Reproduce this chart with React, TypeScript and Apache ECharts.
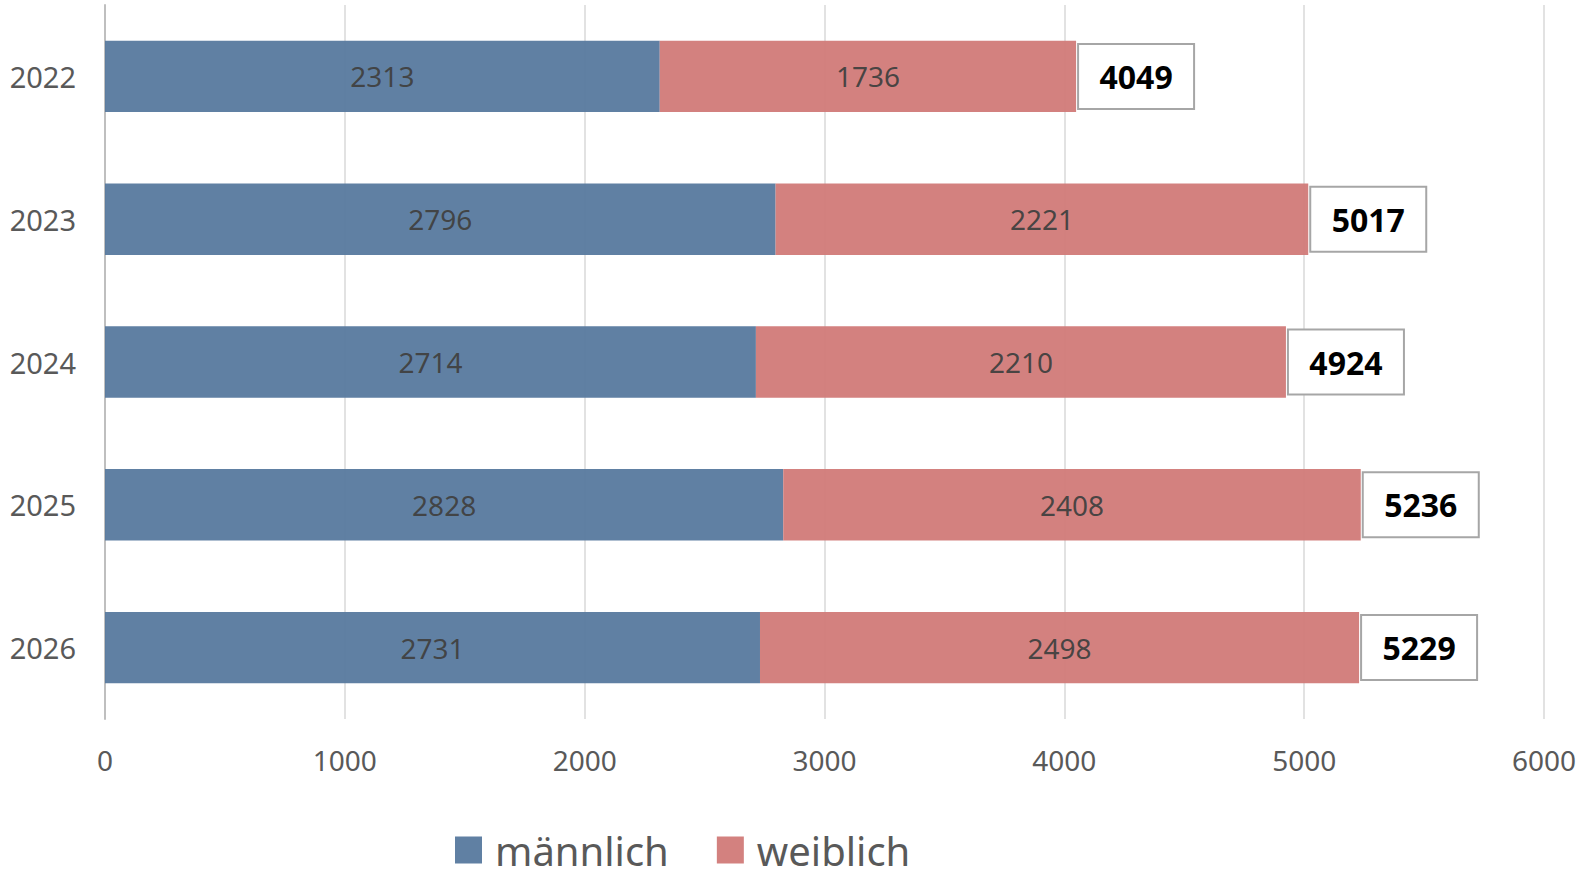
import React, { useEffect, useRef } from "react";
import * as echarts from "echarts";

const years = ["2022", "2023", "2024", "2025", "2026"];
const maennlich = [2313, 2796, 2714, 2828, 2731];
const weiblich = [1736, 2221, 2210, 2408, 2498];
const gesamt = [4049, 5017, 4924, 5236, 5229];
const xTicks = { min: 0, max: 6000, interval: 1000 };

const FONT = "'Noto Sans', sans-serif";

export default function App() {
  const ref = useRef<HTMLDivElement>(null);
  useEffect(() => {
    if (!ref.current) return;
    const chart = echarts.init(ref.current, undefined, { renderer: "svg" });
    chart.setOption({
      animation: false,
      textStyle: { fontFamily: FONT },
      grid: { left: 105, right: 40, top: 5, bottom: 158, containLabel: false },
      legend: {
        data: ["männlich", "weiblich"],
        left: 455,
        top: 830,
        padding: 0,
        icon: "rect",
        itemWidth: 27,
        itemHeight: 27,
        itemGap: 48,
        textStyle: {
          fontSize: 40,
          lineHeight: 38,
          color: "#595959",
          fontFamily: FONT,
          padding: [0, 0, 0, 8],
        },
      },
      xAxis: {
        type: "value",
        min: xTicks.min,
        max: xTicks.max,
        interval: xTicks.interval,
        axisLine: { show: false },
        axisTick: { show: false },
        axisLabel: {
          fontSize: 28,
          color: "#595959",
          margin: 27,
          fontFamily: FONT,
          formatter: (v: number) => String(v),
        },
        splitLine: { show: true, lineStyle: { color: "#d9d9d9", width: 1.5 } },
      },
      yAxis: {
        type: "category",
        data: years,
        inverse: true,
        axisLine: { show: true, lineStyle: { color: "#bfbfbf", width: 2 } },
        axisTick: { show: false },
        axisLabel: { fontSize: 29, color: "#595959", margin: 29, fontFamily: FONT },
      },
      series: [
        {
          name: "männlich",
          type: "bar",
          stack: "total",
          barWidth: "50%",
          data: maennlich,
          itemStyle: { color: "#56789d", opacity: 0.94 },
          label: { show: true, position: "inside", fontSize: 28, color: "#404040", fontFamily: FONT },
        },
        {
          name: "weiblich",
          type: "bar",
          stack: "total",
          barWidth: "50%",
          data: weiblich,
          itemStyle: { color: "#d07977", opacity: 0.94 },
          label: { show: true, position: "inside", fontSize: 28, color: "#404040", fontFamily: FONT },
        },
        {
          name: "Gesamt",
          type: "bar",
          barWidth: "50%",
          barGap: "-100%",
          data: gesamt,
          silent: true,
          z: 1,
          itemStyle: { color: "rgba(0,0,0,0)" },
          label: {
            show: true,
            position: "right",
            distance: 3,
            formatter: (p: any) => `{t|${p.value}}`,
            backgroundColor: "#ffffff",
            borderColor: "#a6a6a6",
            borderWidth: 2,
            padding: 0,
            rich: {
              t: {
                width: 114,
                height: 63,
                lineHeight: 63,
                align: "center",
                fontSize: 32,
                fontWeight: "bold",
                color: "#000000",
                fontFamily: FONT,
              },
            },
          },
        },
      ],
    });
    return () => chart.dispose();
  }, []);
  return (
    <div
      ref={ref}
      style={{ position: "fixed", left: 0, top: 0, width: 1584, height: 877, background: "#fff" }}
    />
  );
}
